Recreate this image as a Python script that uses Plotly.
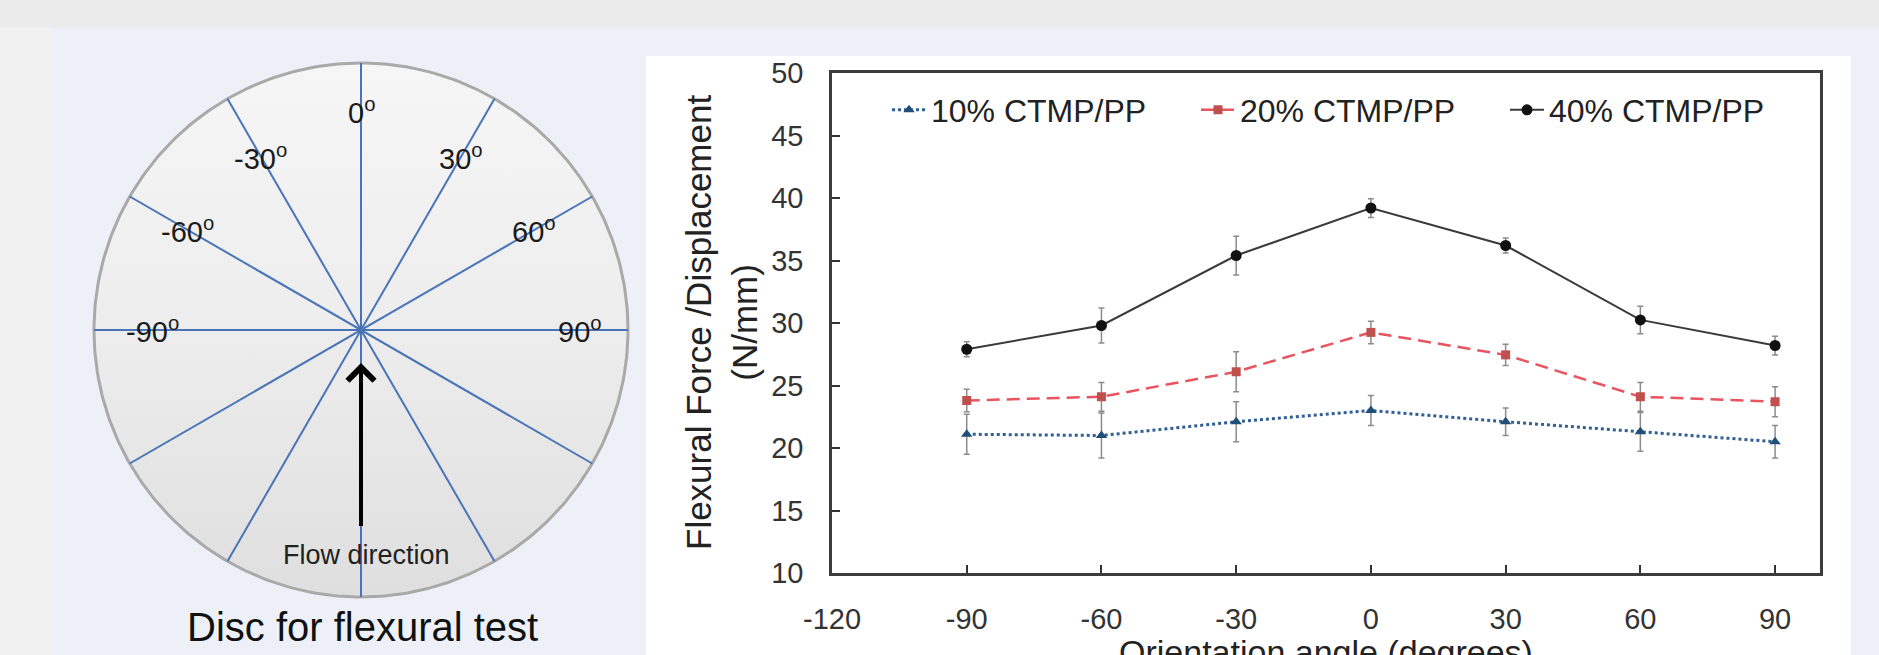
import numpy as np
import plotly.graph_objects as go

W, H = 1879, 655

# ---------------- data ----------------
angles = [-90, -60, -30, 0, 30, 60, 90]
series_names = ["10% CTMP/PP", "20% CTMP/PP", "40% CTMP/PP"]
ctmp10 = [21.1, 21.0, 22.1, 23.0, 22.1, 21.3, 20.5]
ctmp10_err = [1.6, 1.8, 1.6, 1.2, 1.1, 1.55, 1.3]
ctmp20 = [23.8, 24.1, 26.1, 29.25, 27.45, 24.1, 23.7]
ctmp20_err = [0.9, 1.15, 1.6, 0.9, 0.85, 1.15, 1.2]
ctmp40 = [27.9, 29.8, 35.4, 39.2, 36.2, 30.25, 28.2]
ctmp40_err = [0.6, 1.4, 1.55, 0.75, 0.6, 1.1, 0.75]

x_ticks = [-120, -90, -60, -30, 0, 30, 60, 90]
x_tick_labels = ["-120", "-90", "-60", "-30", "0", "30", "60", "90"]
y_ticks = [10, 15, 20, 25, 30, 35, 40, 45, 50]
y_tick_labels = ["10", "15", "20", "25", "30", "35", "40", "45", "50"]

disc_angles = [-90, -60, -30, 0, 30, 60, 90]
disc_label_r = [0.78, 0.75, 0.75, 0.82, 0.75, 0.75, 0.82]

FONT = "Arial, Liberation Sans, Helvetica, sans-serif"


def px(xp):
    return xp / W


def py(yp):
    return 1 - yp / H


fig = go.Figure()

styles = [
    dict(line=dict(color="#2f5f96", width=3, dash="dot"),
         marker=dict(symbol="triangle-up", size=10, color="#1f4e79")),
    dict(line=dict(color="#e8545f", width=2.5, dash="13px,7px"),
         marker=dict(symbol="square", size=9, color="#c0504d")),
    dict(line=dict(color="#3a3a3a", width=2),
         marker=dict(symbol="circle", size=11, color="#111111")),
]
for name, vals, errs, st in zip(series_names, [ctmp10, ctmp20, ctmp40],
                                [ctmp10_err, ctmp20_err, ctmp40_err], styles):
    fig.add_trace(go.Scatter(
        x=angles, y=vals, name=name, mode="lines+markers",
        line=st["line"], marker=st["marker"],
        error_y=dict(type="data", array=errs, visible=True,
                     color="#8c8c8c", thickness=1.5, width=3),
        xaxis="x", yaxis="y", cliponaxis=False,
    ))

# ---------------- disc diagram ----------------
t = np.linspace(0, 2 * np.pi, 361)
fig.add_trace(go.Scatter(
    x=np.cos(t), y=np.sin(t), mode="lines", fill="toself",
    fillgradient=dict(type="vertical",
                      colorscale=[[0, "#dfdfdf"], [0.5, "#ededed"], [1, "#f6f6f6"]]),
    line=dict(color="#a9a9a9", width=3),
    xaxis="x2", yaxis="y2", showlegend=False, hoverinfo="skip",
))
lx, ly = [], []
for a in sorted(set(a % 180 for a in disc_angles)):
    r = np.deg2rad(a)
    lx += [np.sin(r), -np.sin(r), None]
    ly += [np.cos(r), -np.cos(r), None]
fig.add_trace(go.Scatter(
    x=lx, y=ly, mode="lines", line=dict(color="#4a74b8", width=2),
    xaxis="x2", yaxis="y2", showlegend=False, hoverinfo="skip",
))

annotations = []
for a, rr in zip(disc_angles, disc_label_r):
    r = np.deg2rad(a)
    annotations.append(dict(
        x=rr * np.sin(r), y=rr * np.cos(r), xref="x2", yref="y2",
        text=f"{a}<sup>o</sup>", showarrow=False,
        font=dict(family=FONT, size=29, color="#1a1a1a"),
        xanchor="center", yanchor="middle"))

# flow arrow
annotations.append(dict(
    x=0, y=-0.124, xref="x2", yref="y2",
    ax=0, ay=-0.74, axref="x2", ayref="y2",
    text="", showarrow=True, arrowhead=4, arrowsize=1.3,
    arrowwidth=4, arrowcolor="#000000"))
annotations.append(dict(
    x=0.02, y=-0.843, xref="x2", yref="y2", text="Flow direction",
    showarrow=False, font=dict(family=FONT, size=27, color="#222222"),
    xanchor="center", yanchor="middle"))
annotations.append(dict(
    x=px(362), y=py(627), xref="paper", yref="paper",
    text="Disc for flexural test", showarrow=False,
    font=dict(family=FONT, size=40, color="#111111"),
    xanchor="center", yanchor="middle"))

# axis titles
annotations.append(dict(
    x=px(1326), y=py(652), xref="paper", yref="paper",
    text="Orientation angle (degrees)", showarrow=False,
    font=dict(family=FONT, size=34, color="#222222"),
    xanchor="center", yanchor="middle"))
annotations.append(dict(
    x=px(721), y=py(323), xref="paper", yref="paper",
    text="Flexural Force /Displacement<br>(N/mm)", showarrow=False,
    textangle=-90,
    font=dict(family=FONT, size=35, color="#222222"),
    xanchor="center", yanchor="middle"))

# ---------------- background shapes ----------------
shapes = [
    dict(type="rect", xref="paper", yref="paper", x0=0, x1=1, y0=py(27), y1=1,
         fillcolor="#ebebeb", line=dict(width=0), layer="below"),
    dict(type="rect", xref="paper", yref="paper", x0=0, x1=px(52), y0=0, y1=py(27),
         fillcolor="#f1f1f1", line=dict(width=0), layer="below"),
    dict(type="rect", xref="paper", yref="paper", x0=px(646), x1=px(1851), y0=0, y1=py(56),
         fillcolor="#ffffff", line=dict(width=0), layer="below"),
]

cx, cy, R = 361, 330, 267
pad = 1.05
axis_common = dict(
    ticks="inside", ticklen=8, tickwidth=1.5, tickcolor="#333333",
    showline=True, linecolor="#3c3c3c", linewidth=2.5, mirror=True,
    showgrid=False, zeroline=False, automargin=False,
    tickfont=dict(family=FONT, size=29, color="#333333"),
)

fig.update_layout(
    width=W, height=H, autosize=False,
    margin=dict(l=0, r=0, t=0, b=0, pad=0, autoexpand=False),
    paper_bgcolor="#edf1f7", plot_bgcolor="rgba(0,0,0,0)",
    showlegend=True,
    legend=dict(
        orientation="h", x=px(887), y=py(110), xanchor="left", yanchor="middle",
        font=dict(family=FONT, size=32, color="#222222"),
        bgcolor="rgba(0,0,0,0)", itemwidth=34, entrywidth=260,
        entrywidthmode="pixels", tracegroupgap=0,
    ),
    xaxis=dict(domain=[px(832), px(1820)], range=[-120, 100], tickvals=x_ticks,
               ticktext=x_tick_labels, ticklabelstandoff=18, anchor="y", **axis_common),
    yaxis=dict(domain=[py(573), py(73)], range=[10, 50], tickvals=y_ticks,
               ticktext=y_tick_labels, ticklabelstandoff=20, anchor="x", **axis_common),
    xaxis2=dict(domain=[px(cx - R * pad), px(cx + R * pad)], range=[-pad, pad],
                visible=False, anchor="y2", fixedrange=True, automargin=False),
    yaxis2=dict(domain=[py(cy + R * pad), py(cy - R * pad)], range=[-pad, pad],
                visible=False, anchor="x2", fixedrange=True, automargin=False),
    annotations=annotations,
    shapes=shapes,
)

fig.write_html(
    "out.html",
    config={"displayModeBar": False},
    post_script="document.body.style.margin='0';document.body.style.overflow='hidden';",
)
